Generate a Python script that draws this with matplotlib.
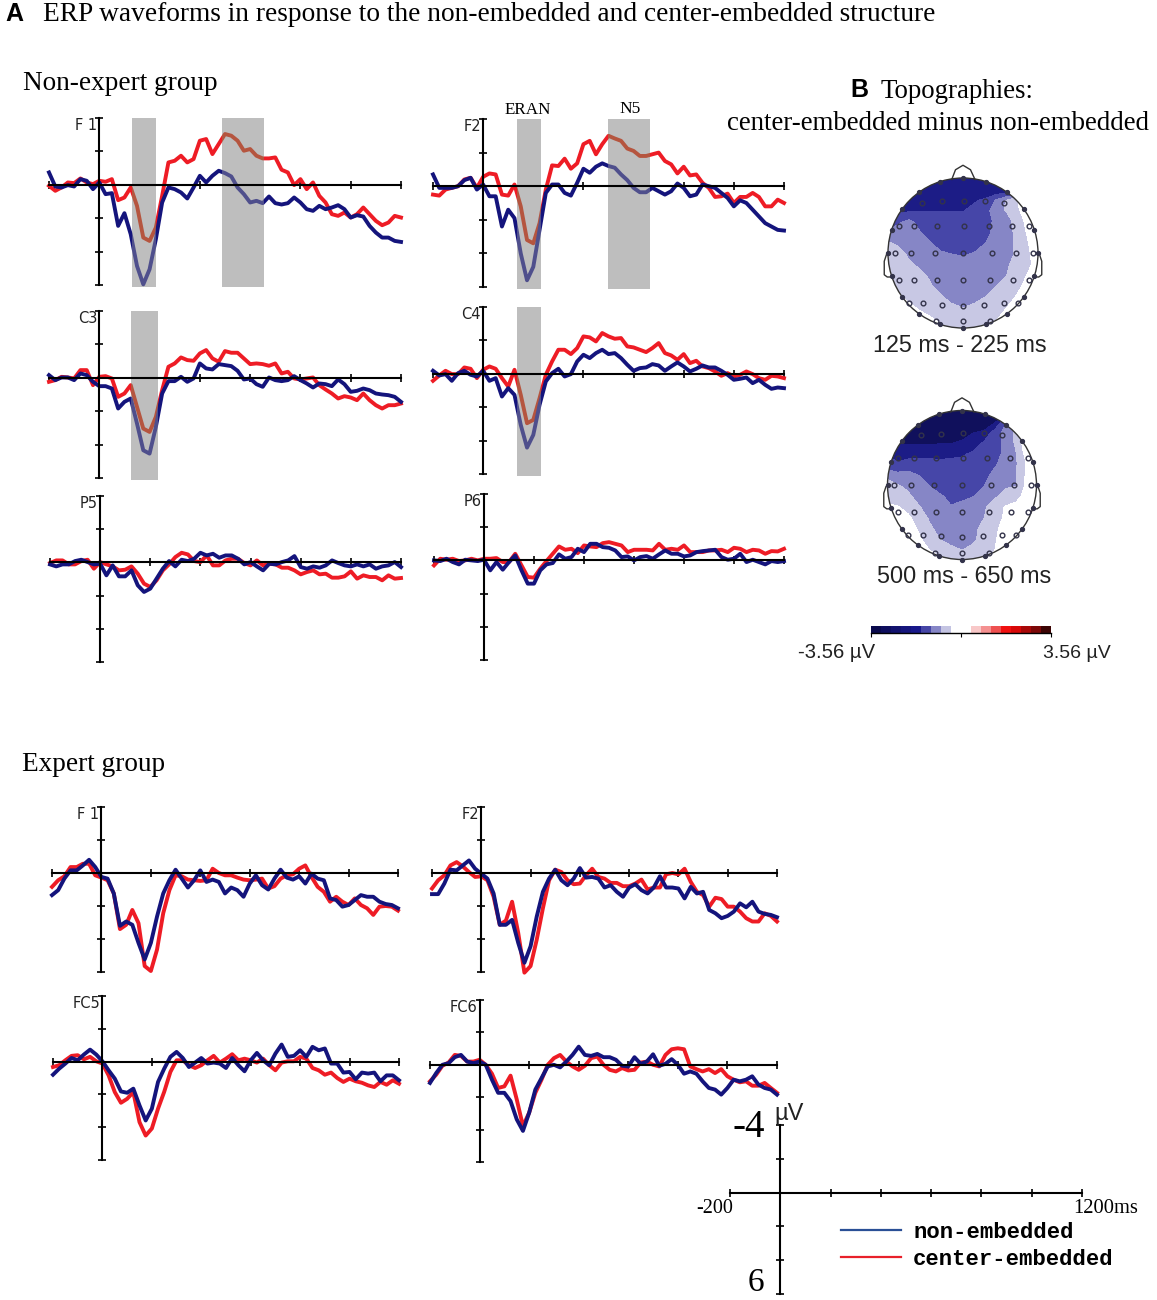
#!/usr/bin/python3
import numpy as np
import matplotlib
matplotlib.use('Agg')
import matplotlib.pyplot as plt
from matplotlib.colors import ListedColormap, BoundaryNorm
from matplotlib.lines import Line2D
from matplotlib.patches import Circle, Rectangle

W, H = 1157, 1300
SERIF = 'Liberation Serif'
SANS = 'Liberation Sans'
RED = '#ee1c25'
NAVY = '#14147c'
RED_GRAY = '#b5553f'
NAVY_GRAY = '#4f4f8c'
SPAN_GRAY = '#bebebe'

# one sample every 25 ms, -200 to 1200 ms
TIME = np.arange(-200, 1201, 25)

# non-expert group, uV (negative is up)
NE_F1_CENTER = [0.06,0.36,0.16,-0.14,-0.10,-0.38,-0.14,-0.04,-0.24,-0.18,-0.34,0.92,0.76,0.16,1.26,3.16,3.36,2.56,0.66,-1.34,-1.44,-1.74,-1.34,-1.54,-2.64,-2.74,-1.84,-2.44,-3.04,-2.94,-2.64,-2.04,-2.14,-1.74,-1.58,-1.58,-1.64,-0.9,-0.74,0.02,-0.34,0.26,-0.14,0.66,1.06,1.76,1.86,1.66,1.96,1.76,1.36,1.76,2.16,2.42,2.26,1.86,1.96]
NE_F1_NON = [-0.74,0.1,0.16,0.02,0.1,-0.34,-0.24,0.26,-0.14,0.56,0.5,2.46,1.7,2.96,4.86,5.96,5.06,3.26,1.06,0.16,0.26,0.46,0.82,0.16,-0.54,-0.14,-0.54,-0.84,-0.7,-0.5,0.16,0.56,1.06,0.96,1.1,0.7,1.1,1.18,1.1,0.76,1.06,1.46,1.56,1.26,1.46,1.36,1.22,1.46,1.96,1.82,1.9,2.46,2.86,3.16,3.16,3.36,3.42]
NE_F2_CENTER = [0.5,0.56,0.2,0.1,0,-0.4,-0.5,0.1,-0.56,-0.76,-0.7,0.5,0.56,-0.1,1.2,3.2,3.4,2.2,0.2,-1.24,-1.2,-1.64,-1.04,-1.36,-2.5,-2.7,-1.9,-2.5,-3,-2.84,-2.7,-2.24,-2.1,-1.8,-1.8,-1.9,-2,-1.5,-1.3,-0.76,-1.16,-0.64,-0.7,-0.2,0.1,0.64,0.6,0.44,1,0.64,0.64,0.4,0.64,1.2,1.2,0.8,1.0]
NE_F2_NON = [-0.7,0.1,0.1,0.1,0,-0.36,-0.5,0.2,-0.1,0.6,0.6,2.4,1.4,1.9,4,5.6,4.8,2.6,0.4,-0.1,-0.1,0.4,0.56,-0.2,-1.04,-0.8,-1.16,-1.36,-1.2,-1.1,-0.7,-0.36,0.1,0.36,0.36,0.1,0.3,0.5,0.3,-0.16,0.1,0.6,0.5,-0.1,0,0.1,0.4,0.7,1.2,0.84,1,1.4,1.8,2.2,2.4,2.6,2.64]
NE_C3_CENTER = [0.24,0.14,-0.06,-0.02,0.04,-0.46,-0.46,0.44,-0.06,-0.1,0.04,1.14,0.94,0.44,1.74,3.04,3.24,2.34,0.74,-0.66,-0.86,-1.22,-1.06,-1.02,-1.46,-1.66,-1.16,-0.96,-1.6,-1.5,-1.5,-1.16,-0.82,-0.86,-0.82,-0.72,-0.86,-0.26,-0.36,0.04,0.1,0.04,-0.02,0.44,0.7,0.94,1.24,1.1,1.18,1.34,0.94,1.34,1.64,1.84,1.64,1.64,1.54]
NE_C3_NON = [-0.16,0.14,-0.02,-0.02,0.14,-0.26,-0.16,0.24,0.5,0.5,0.64,1.84,1.44,1.24,2.74,4.34,4.54,2.94,0.94,0.2,0.2,-0.06,0.24,0.04,-0.86,-0.56,-0.5,-0.82,-0.76,-0.7,-0.42,0.1,0.04,0.38,0.54,-0.02,0.14,0.2,0.14,-0.1,0.14,0.34,0.58,0.34,0.38,0.5,0.1,0.38,0.84,0.78,0.64,0.74,0.94,1,1.04,1.14,1.44]
NE_C4_CENTER = [0.42,0.1,-0.18,0.02,0.02,-0.38,-0.3,0.26,-0.24,-0.44,-0.3,0.26,0.76,-0.24,1.26,2.96,2.76,1.46,0.06,-0.74,-1.44,-1.44,-1.18,-1.54,-2.24,-2.18,-1.94,-2.44,-2.24,-2.1,-2.14,-1.64,-1.58,-1.44,-1.3,-1.54,-1.84,-1.24,-1.1,-0.84,-1.18,-0.64,-0.78,-0.44,-0.34,-0.14,0.12,-0.04,0.16,0.06,-0.14,0.02,0.26,0.36,0.12,0.16,0.26]
NE_C4_NON = [-0.18,0.1,0.02,0.42,-0.04,-0.18,0.06,0.16,-0.18,0.42,0.26,1.36,0.86,1.26,3.06,4.42,3.66,1.86,0.46,-0.04,-0.3,0.16,0.02,-0.74,-1.14,-0.94,-1.24,-1.44,-1.18,-1.24,-0.94,-0.54,-0.18,-0.34,-0.38,-0.58,-0.5,-0.18,-0.44,-0.68,-0.44,-0.14,-0.3,-0.5,-0.38,-0.38,-0.18,0.06,0.36,0.3,0.22,0.56,0.36,0.66,0.9,0.82,0.86]
NE_P5_CENTER = [0.04,-0.12,-0.12,0.12,0.12,-0.08,-0.16,0.38,-0.02,0.12,0.24,0.48,0.44,0.24,0.68,1.28,1.48,1.08,0.48,0.12,-0.32,-0.58,-0.48,-0.08,-0.02,-0.42,0.18,0.18,-0.12,-0.22,-0.22,0.04,0.18,-0.12,0.18,0.08,0.12,0.32,0.32,0.48,0.72,0.58,0.48,0.72,0.68,0.92,0.92,0.84,0.54,0.98,0.78,0.88,0.88,1.08,0.78,0.98,0.94]
NE_P5_NON = [0.12,0.24,0.12,0.12,-0.08,-0.16,-0.02,0.12,0.08,0.78,0.18,0.84,0.84,0.48,1.38,1.78,1.58,0.98,0.38,-0.08,0.24,-0.16,-0.08,-0.22,-0.58,-0.42,-0.52,-0.28,-0.42,-0.42,-0.22,0.12,-0.02,0.24,0.48,0.08,0.12,-0.02,-0.12,-0.38,0.28,0.38,0.24,0.32,0.18,-0.12,0.04,0.18,0.24,0.12,0.24,0.12,0.38,0.24,0.18,-0.02,0.28]
NE_P6_CENTER = [0.3,-0.1,-0.04,-0.1,0.04,0,-0.1,0,-0.1,-0.1,-0.14,0.1,0.1,-0.4,0.3,1,1.04,0.5,0.04,-0.4,-0.84,-0.64,-0.7,-0.44,-0.9,-0.84,-0.8,-1.04,-1.1,-1,-0.9,-0.5,-0.64,-0.64,-0.64,-0.6,-1,-0.64,-0.7,-0.64,-0.9,-0.5,-0.5,-0.5,-0.6,-0.6,-0.64,-0.5,-0.76,-0.7,-0.5,-0.64,-0.6,-0.4,-0.56,-0.54,-0.7]
NE_P6_NON = [0,0.04,-0.1,0.1,0.24,-0.04,0,0.04,-0.04,0.6,0.1,0.56,0.1,-0.3,0.6,1.4,1.4,0.6,0.24,0.16,-0.36,-0.1,-0.2,-0.7,-0.5,-1,-1,-0.8,-0.76,-0.6,-0.2,-0.24,0,-0.2,-0.26,-0.1,-0.36,-0.6,-0.4,-0.4,-0.24,-0.3,-0.5,-0.56,-0.6,-0.64,-0.2,-0.04,-0.1,-0.4,0.1,-0.04,0.1,0.24,0.04,0.1,0.04]

# expert group
EX_F1_CENTER = [0.84,0.44,0.2,-0.36,-0.36,-0.56,-0.56,0.14,0.28,0.44,1.24,3.4,3.14,2.24,3.04,5.64,5.94,4.64,2.44,1.04,0.14,0.2,0.4,0.44,0.48,0.44,-0.26,0,0.14,0.14,0.28,0.4,0.44,0.4,0.34,0.94,0.8,0.34,0.14,0.08,-0.26,-0.46,0.24,0.84,1.14,1.74,1.44,1.74,1.94,1.54,1.94,2.14,2.54,2.04,2,2.04,2.28]
EX_F1_NON = [1.34,1.04,0.34,-0.16,-0.16,-0.46,-0.8,-0.36,0.24,0.34,1.24,3.2,2.94,3.14,4.24,5.24,4.24,2.64,1.24,0.44,-0.2,0.34,0.88,0.44,-0.16,0.54,0.4,0.54,1.24,0.88,1.04,1.44,0.64,0.14,0.74,1,0.34,-0.2,0.28,0.4,0.2,0.64,0.04,0.34,0.44,1.54,1.64,2.04,1.94,1.64,1.34,1.44,1.44,1.74,1.88,1.94,2.14]
EX_F2_CENTER = [0.94,0.44,0.14,-0.46,-0.66,-0.4,-0.06,0.24,0.2,0.44,1.44,3.14,2.88,1.74,3.64,6.04,5.64,4.04,2.14,0.44,-0.2,-0.06,0.44,0.68,0.64,0.14,-0.26,0.24,0.34,0.6,0.6,0.8,0.8,0.64,0.4,1,0.88,0.88,0.08,0,0.08,-0.26,0.54,1.14,1.34,2.04,1.5,1.58,2.04,2.04,2.34,2.74,2.94,2.94,2.44,2.6,2.94]
EX_F2_NON = [1.28,1.28,0.64,-0.2,-0.16,-0.46,-0.76,-0.26,0.04,0.34,1.24,3.14,3.14,2.84,4.24,5.44,4.44,2.64,1.14,0.34,-0.2,0.44,0.74,0.34,-0.3,0.28,0.24,0.34,0.88,0.74,1.14,1.44,0.88,0.68,1.04,1.24,0.88,0.2,0.88,0.88,0.94,1.54,0.84,1.24,1.14,2.24,2.44,2.74,2.6,2.34,1.84,2.08,1.74,2.34,2.48,2.54,2.68]
EX_FC5_CENTER = [0.33,0.22,-0.08,-0.35,-0.39,-0.14,-0.29,-0.02,0.12,0.84,1.86,2.51,2.27,1.86,3.69,4.51,4.08,2.87,1.84,0.63,-0.08,-0.08,0.22,0.39,0.22,-0.08,-0.35,0.06,-0.18,-0.45,-0.08,-0.18,-0.08,0.06,-0.18,0.22,0.53,0.06,-0.02,-0.02,-0.29,-0.18,0.39,0.53,0.8,0.67,1,1.24,1.04,1.2,1.29,1.45,1.55,1.24,1.41,1.14,1.35]
EX_FC5_NON = [0.8,0.43,0.12,-0.22,-0.08,-0.43,-0.73,-0.43,-0.02,0.53,1.04,1.82,1.9,1.65,2.67,3.59,2.87,1.24,0.43,-0.29,-0.59,-0.22,0.33,0.06,-0.22,0.12,0.06,0.12,0.39,-0.22,0.22,0.59,-0.08,-0.53,-0.08,0.22,-0.49,-1.04,-0.29,-0.35,-0.69,-0.29,-0.9,-0.69,-0.8,0.12,0.12,0.67,0.63,1.08,0.67,0.73,0.67,1.2,0.84,0.84,1.14]
EX_FC6_CENTER = [1.02,0.61,0.06,-0.14,-0.61,-0.55,-0.2,-0.2,-0.31,0,0.55,1.43,1.33,0.67,2.14,3.78,2.96,1.73,0.92,0,-0.41,-0.61,-0.2,0.1,0.31,0.06,-0.41,-0.51,0,0.31,0.41,0.2,0.35,0.31,-0.14,-0.2,0,0.1,-0.61,-0.96,-1.02,-0.96,0.1,0.27,0.41,0.27,0.51,0.27,0.71,0.92,1.08,1.02,1.29,1.29,1.12,1.43,1.73]
EX_FC6_NON = [1.12,0.51,0,-0.1,-0.47,-0.61,-0.2,-0.1,-0.2,0,0.92,1.73,1.73,2.24,3.37,4.08,2.96,1.53,0.82,0.1,0,0.16,-0.2,-0.61,-1.12,-0.61,-0.55,-0.67,-0.47,-0.47,-0.31,0.06,0.1,-0.47,-0.06,-0.2,-0.65,0.06,-0.06,-0.35,0,0.55,0.41,0.55,1.02,1.43,1.53,1.84,1.43,0.92,1.02,0.92,0.71,1.22,1.43,1.53,1.84]

YTICKS = [-4, -2, 0, 2, 4, 6]
XTICKS = [-200, 0, 200, 400, 600, 800, 1000, 1200]

# topography maps: depth of the difference, 15 x 15 samples, front row first
TOPO_EARLY = [
    [4.4]*15,
    [4.4]*15,
    [4.4,4.4,4.4,4.4,4.4,4.4,4.4,4.4,3.6,3.3,2.4,1.4,0.5,0,0],
    [3.6,3.6,3.6,3.5,3.5,3.5,3.5,3.5,3.2,2.8,2.0,1.3,0.6,0,0],
    [3.6,2.6,2.2,2.8,3.2,3.3,3.3,3.3,3.3,3.0,2.2,1.9,0.9,0.2,0],
    [2.0,2.0,2.0,2.4,3.0,3.3,3.3,3.3,3.2,2.8,2.2,1.9,1.2,0.3,0],
    [1.4,1.6,1.9,2.0,2.4,3.0,3.1,3.2,3.0,2.5,2.1,1.8,1.3,0.5,0],
    [1.0,1.2,1.6,1.9,2.1,2.3,2.5,2.6,2.4,2.2,2.0,1.7,1.4,0.6,0],
    [1.0,1.1,1.4,1.6,2.0,2.1,2.1,2.1,2.1,2.0,1.9,1.6,1.2,0.7,0],
    [0.8,0.9,1.1,1.3,1.6,2.0,2.1,2.1,2.1,2.0,1.8,1.5,1.0,0.4,0],
    [0.6,0.7,1.0,1.1,1.4,1.8,2.0,2.0,2.0,1.8,1.5,1.1,0.7,0.2,0],
    [0,0.4,0.7,1.0,1.1,1.4,1.8,2.0,1.8,1.5,1.1,0.9,0.4,0,0],
    [0,0,0.3,0.6,1.0,1.1,1.3,1.5,1.3,1.1,1.0,0.5,0.1,0,0],
    [0,0,0,0.2,0.4,0.8,1.1,1.1,1.1,1.0,0.6,0.1,0,0,0],
    [0,0,0,0,0,0.2,0.7,0.8,0.7,0.3,0,0,0,0,0],
]
TOPO_LATE = [
    [5.5]*15,
    [5.5,5.5,5.5,5.5,5.5,5.5,5.5,5.5,5.5,5.5,4.6,2.6,0.8,0,0],
    [5,5,5,5,5,5,5,4.9,4.5,4.2,3,2.2,1.2,0,0],
    [4.6,4.6,4.6,4.6,4.6,4.5,4.5,4.3,4.0,3.3,3.0,2.2,1.3,-0.3,-0.6],
    [3.6,3.7,3.8,3.8,3.8,3.8,3.7,3.6,3.3,3.1,2.9,2.2,1.5,0,-1],
    [3.2,3.4,3.1,3.0,3.1,3.2,3.2,3.2,3.1,3.0,2.6,2.1,1.6,0.4,-1],
    [1.6,2.1,2.1,2.5,2.9,3.1,3.2,3.2,3.1,2.8,2.2,2.0,1.5,0.3,-0.3],
    [1.3,1.4,1.7,2.2,2.5,3.0,3.1,3.1,2.9,2.5,2.1,1.6,1.5,0.2,-0.3],
    [1.1,1.1,1.3,1.8,2.1,2.3,2.8,2.7,2.5,1.8,1.6,1.2,0.9,0,0],
    [0.2,0.4,0.8,1.4,1.9,2.1,2.4,2.2,2.0,1.6,1.1,0.4,0.1,0,0],
    [0,0.1,0.3,0.9,1.6,2.0,2.1,2.1,1.9,1.5,1.0,0.3,0,0,0],
    [0,0,0.1,0.6,1.3,1.8,2.0,2.0,1.8,1.1,0.7,0.1,0,0,0],
    [0,0,0,0.3,1.0,1.5,1.9,2.0,1.7,1.0,0.6,0,0,0,0],
    [0,0,0,0,0.5,0.8,1.2,1.5,1.2,1.0,0.5,0,0,0,0],
    [0,0,0,0,0,0.3,0.6,0.8,0.8,0.7,0.3,0,0,0,0],
]
TOPO_LEVELS = [-2, -0.5, 0.5, 1.5, 2.5, 3.5, 4.5, 6]
TOPO_COLORS = ['#f6c4c4', '#ffffff', '#c8c8e4', '#8686c6', '#4646a8', '#1c1c86', '#10105c']

ELECTRODE_X = [-0.55,-0.28,0.01,0.29,0.54,-0.86,-0.65,-0.35,0.01,0.34,0.65,0.88,-0.91,-0.69,-0.38,0,0.39,0.70,0.93,-0.86,-0.65,-0.35,0,0.36,0.66,0.88,-0.72,-0.53,-0.28,0,0.28,0.54,0.73,-0.36,0,0.36]
ELECTRODE_Y = [0.67,0.69,0.70,0.70,0.67,0.36,0.36,0.36,0.36,0.36,0.36,0.36,0,0,0,0,0,0,0,-0.36,-0.36,-0.36,-0.36,-0.36,-0.36,-0.36,-0.67,-0.67,-0.69,-0.70,-0.69,-0.67,-0.67,-0.91,-0.91,-0.91]
RING_ANGLES = [-90,-72,-54,-36,-18,0,18,36,54,72,90,108,126,144,162,180,198,216,234,252]

CBAR_COLORS = ['#0a0a4c','#0e0e5e','#12126e','#15157c','#18188a','#4646a6','#8686c6','#c4c4e2',
               '#ffffff','#ffffff','#f8c8c8','#f49090','#ee5050','#f01010','#d80808','#a80808','#7c0808','#3c0404']
CBAR_EDGES = np.linspace(-3.56, 3.56, 19)


def px_axes(fig, left, right, top, bottom):
    return fig.add_axes([left/W, 1 - bottom/H, (right - left)/W, (bottom - top)/H])


def fig_text(fig, x, y, s, **kw):
    fig.text(x/W, 1 - y/H, s, **kw)


def style_axes(ax):
    ax.set_xlim(-200, 1200)
    ax.set_ylim(6, -4)
    ax.patch.set_visible(False)
    for side in ('top', 'right'):
        ax.spines[side].set_visible(False)
    ax.spines['bottom'].set_position(('data', 0))
    ax.spines['left'].set_position(('data', 0))
    for side in ('bottom', 'left'):
        ax.spines[side].set_linewidth(1.5)
        ax.spines[side].set_zorder(6)
    ax.set_xticks(XTICKS)
    ax.set_yticks(YTICKS)
    ax.set_xticklabels([])
    ax.set_yticklabels([])
    ax.tick_params(direction='inout', length=5.5, width=1.2, zorder=6)
    for tick in ax.xaxis.get_major_ticks() + ax.yaxis.get_major_ticks():
        tick.set_zorder(6)


def draw_panel(fig, box, name, center, non, spans=()):
    ax = px_axes(fig, *box)
    style_axes(ax)
    series = [(center, RED, RED_GRAY), (non, NAVY, NAVY_GRAY)]
    for values, color, _ in series:
        ax.plot(TIME, values, color=color, lw=2.8, zorder=2, clip_on=False,
                solid_joinstyle='round')
    for start, stop in spans:
        rect = Rectangle((start, -4), stop - start, 10.1, color=SPAN_GRAY, lw=0, zorder=3, clip_on=False)
        ax.add_patch(rect)
        for values, _, muted in series:
            line, = ax.plot(TIME, values, color=muted, lw=2.8, zorder=4, solid_joinstyle='round')
            line.set_clip_path(rect)
    ax.annotate(name, xy=(0, -4), xytext=(-1.5, 0), textcoords='offset points', ha='right', va='top',
                fontsize=10.5, family='DejaVu Sans', annotation_clip=False, color='#222222')


def draw_topo(fig, cx, cy, r, values, label, label_x, label_y):
    size = r*1.3
    ax = px_axes(fig, cx - size, cx + size, cy - size, cy + size)
    ax.set_xlim(-1.3, 1.3)
    ax.set_ylim(-1.3, 1.3)
    ax.axis('off')
    xs = np.linspace(-1, 1, 15)
    ys = np.linspace(1, -1, 15)
    filled = ax.contourf(xs, ys, np.array(values), levels=TOPO_LEVELS, colors=TOPO_COLORS)
    head = Circle((0, 0), 1, fc='none', ec='#333333', lw=1.0, zorder=3)
    ax.add_patch(head)
    filled.set_clip_path(head)
    ax.plot([-0.15,-0.1,0,0.1,0.16], [0.98,1.11,1.17,1.11,0.98], color='#333333', lw=1.0)
    for sign in (-1, 1):
        ax.plot(np.array([0.98,1.02,1.05,1.05,1.01,0.97])*sign, [0,-0.02,-0.11,-0.29,-0.32,-0.32],
                color='#333333', lw=1.0)
    ax.plot(ELECTRODE_X, ELECTRODE_Y, 'o', ms=3.4, mfc='none', mec='#33334a', mew=1.0, zorder=4)
    angles = np.radians(RING_ANGLES)
    ax.plot(np.cos(angles), np.sin(angles), 'o', ms=2.8, color='#33334a', zorder=4)
    fig_text(fig, label_x, label_y, label, family=SANS, fontsize=16.8, color='#222222',
             ha='left', va='baseline')


fig = plt.figure(figsize=(W/100, H/100), dpi=100)

# headings
fig_text(fig, 5, 21, 'A', family=SANS, weight='bold', fontsize=18)
fig_text(fig, 43, 21, 'ERP waveforms in response to the non-embedded and center-embedded structure',
         family=SERIF, fontsize=19.7)
fig_text(fig, 23, 90, 'Non-expert group', family=SERIF, fontsize=19.6)
fig_text(fig, 22, 771, 'Expert group', family=SERIF, fontsize=19.6)
fig_text(fig, 850, 97, 'B', family=SANS, weight='bold', fontsize=18)
fig_text(fig, 881, 98, 'Topographies:', family=SERIF, fontsize=19.4)
fig_text(fig, 727, 130, 'center-embedded minus non-embedded', family=SERIF, fontsize=19.4)
fig_text(fig, 528, 114, 'ERAN', family=SERIF, fontsize=12.3, ha='center')
fig_text(fig, 630, 113, 'N5', family=SERIF, fontsize=12.5, ha='center')

# ERP panels, box in pixels: x of -200, x of 1200, y of -4, y of 6
draw_panel(fig, (49, 401, 118, 285), 'F 1', NE_F1_CENTER, NE_F1_NON, [(130, 227), (490, 655)])
draw_panel(fig, (433, 784, 119, 287), 'F2', NE_F2_CENTER, NE_F2_NON, [(134, 231), (497, 665)])
draw_panel(fig, (49, 401, 311, 478), 'C3', NE_C3_CENTER, NE_C3_NON, [(128, 232)])
draw_panel(fig, (433, 784, 307, 474), 'C4', NE_C4_CENTER, NE_C4_NON, [(134, 231)])
draw_panel(fig, (50, 401, 496, 662), 'P5', NE_P5_CENTER, NE_P5_NON)
draw_panel(fig, (434, 784, 494, 660), 'P6', NE_P6_CENTER, NE_P6_NON)
draw_panel(fig, (52, 398, 807, 972), 'F 1', EX_F1_CENTER, EX_F1_NON)
draw_panel(fig, (432, 777, 807, 972), 'F2', EX_F2_CENTER, EX_F2_NON)
draw_panel(fig, (53, 399, 996, 1160), 'FC5', EX_FC5_CENTER, EX_FC5_NON)
draw_panel(fig, (430, 777, 1000, 1162), 'FC6', EX_FC6_CENTER, EX_FC6_NON)

# topographies
draw_topo(fig, 963, 253, 75, TOPO_EARLY, '125 ms - 225 ms', 873, 352)
draw_topo(fig, 962, 485, 74.5, TOPO_LATE, '500 ms - 650 ms', 877, 583)

# colour bar
cax = px_axes(fig, 871, 1051, 626, 633)
cax.pcolormesh(CBAR_EDGES, [0, 1], [np.arange(18)], cmap=ListedColormap(CBAR_COLORS),
               norm=BoundaryNorm(np.arange(19) - 0.5, 18))
cax.set_yticks([])
cax.set_xticks([-3.56, 0, 3.56])
cax.set_xticklabels([])
cax.tick_params(length=3, width=0.8)
for side in ('top', 'left', 'right'):
    cax.spines[side].set_visible(False)
cax.spines['bottom'].set_linewidth(1.0)
fig_text(fig, 798, 658, '-3.56 µV', family=SANS, fontsize=14.6, color='#222222')
fig_text(fig, 1043, 658, '3.56 µV', family=SANS, fontsize=14.0, color='#222222')

# scale bar
sax = px_axes(fig, 730, 1082, 1125, 1294)
style_axes(sax)
fig_text(fig, 733, 1137, '-4', family=SERIF, fontsize=28)
fig_text(fig, 774, 1120, 'µV', family=SANS, fontsize=17, color='#222222')
fig_text(fig, 696, 1213, '-200', family=SERIF, fontsize=14.5)
fig_text(fig, 1073, 1213, '1200ms', family=SERIF, fontsize=14.8)
fig_text(fig, 748, 1291, '6', family=SERIF, fontsize=24)

handles = [Line2D([], [], color='#2a4f96', lw=1.6), Line2D([], [], color='#e8202a', lw=1.6)]
fig.legend(handles, ['non-embedded', 'center-embedded'], loc='upper left',
           bbox_to_anchor=(841/W, 1 - 1222/H), frameon=False, handlelength=2.7, handletextpad=0.55,
           labelspacing=0.28, borderpad=0, borderaxespad=0,
           prop={'family': 'Liberation Mono', 'weight': 'bold', 'size': 16})

fig.savefig('out.png', dpi=100)
